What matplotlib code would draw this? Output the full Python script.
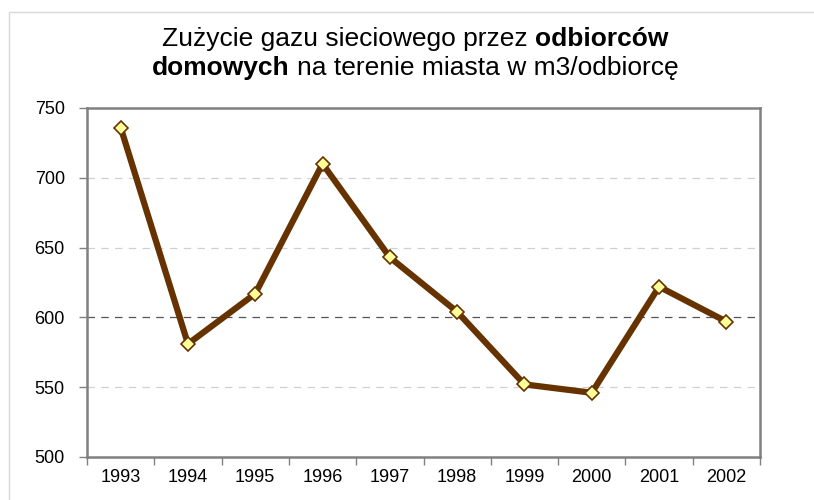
import matplotlib
matplotlib.use("Agg")
import matplotlib.pyplot as plt
from matplotlib.patches import Rectangle

years = ['1993', '1994', '1995', '1996', '1997', '1998', '1999', '2000', '2001', '2002']
usage = [736, 581, 617, 710, 643, 604, 552, 546, 622, 597]

title_lines = [
    [("Zużycie gazu sieciowego przez", "normal"), ("odbiorców", "bold")],
    [("domowych", "bold"), ("na terenie miasta w m3/odbiorcę", "normal")],
]

plt.rcParams['font.family'] = ['Liberation Sans', 'DejaVu Sans']

fig = plt.figure(figsize=(8.14, 5.0), dpi=100)
# light frame of the chart area (left and top edges visible)
fig.patches.append(Rectangle((9 / 814, -0.1), 1.2, 488 / 500 + 0.1,
                             transform=fig.transFigure, fill=False,
                             edgecolor='#d9d9d9', linewidth=1.0))

ax = fig.add_axes([87 / 814, 43 / 500, 673 / 814, 349 / 500])

x = list(range(len(years)))
ax.plot(x, usage, color='#663300', linewidth=4.5, marker='D', markersize=7.5,
        markerfacecolor='#ffff99', markeredgecolor='#663300', markeredgewidth=1.2,
        zorder=3)

ax.set_xlim(-0.5, len(years) - 0.5)
ax.set_ylim(500, 750)
ax.set_yticks([500, 550, 600, 650, 700, 750])
for v in [550, 650, 700]:
    ax.axhline(v, color='#d0d0d0', linewidth=0.9, dashes=(6, 5), zorder=1)
ax.axhline(600, color='#555555', linewidth=0.9, dashes=(6, 5), zorder=1)

# category axis: ticks between the years, labels in the middle
ax.set_xticks([i - 0.5 for i in range(len(years) + 1)])
ax.set_xticklabels([])
ax.set_xticks(x, minor=True)
ax.set_xticklabels(years, minor=True)
ax.tick_params(axis='x', which='minor', length=0, pad=9, labelsize=13)
ax.tick_params(axis='x', which='major', length=6, width=1, color='#808080')
ax.tick_params(axis='y', length=6, width=1, color='#808080', pad=10, labelsize=13)

for s in ax.spines.values():
    s.set_color('#808080')
    s.set_linewidth(1.8)

# title with bold pieces
fig.canvas.draw()
renderer = fig.canvas.get_renderer()
fs = 19


def width_of(s, weight):
    t = fig.text(0, 0, s, fontsize=fs, fontweight=weight)
    w = t.get_window_extent(renderer).width
    t.remove()
    return w


space = width_of("x x", "normal") - width_of("xx", "normal")
baselines = [454, 425]
for line, yb in zip(title_lines, baselines):
    widths = [width_of(s, w) for s, w in line]
    total = sum(widths) + space * (len(line) - 1)
    xp = 415 - total / 2
    for (s, w), wd in zip(line, widths):
        fig.text(xp / 814, yb / 500, s, fontsize=fs, fontweight=w,
                 ha='left', va='baseline')
        xp += wd + space

fig.savefig('out.png', dpi=100)
